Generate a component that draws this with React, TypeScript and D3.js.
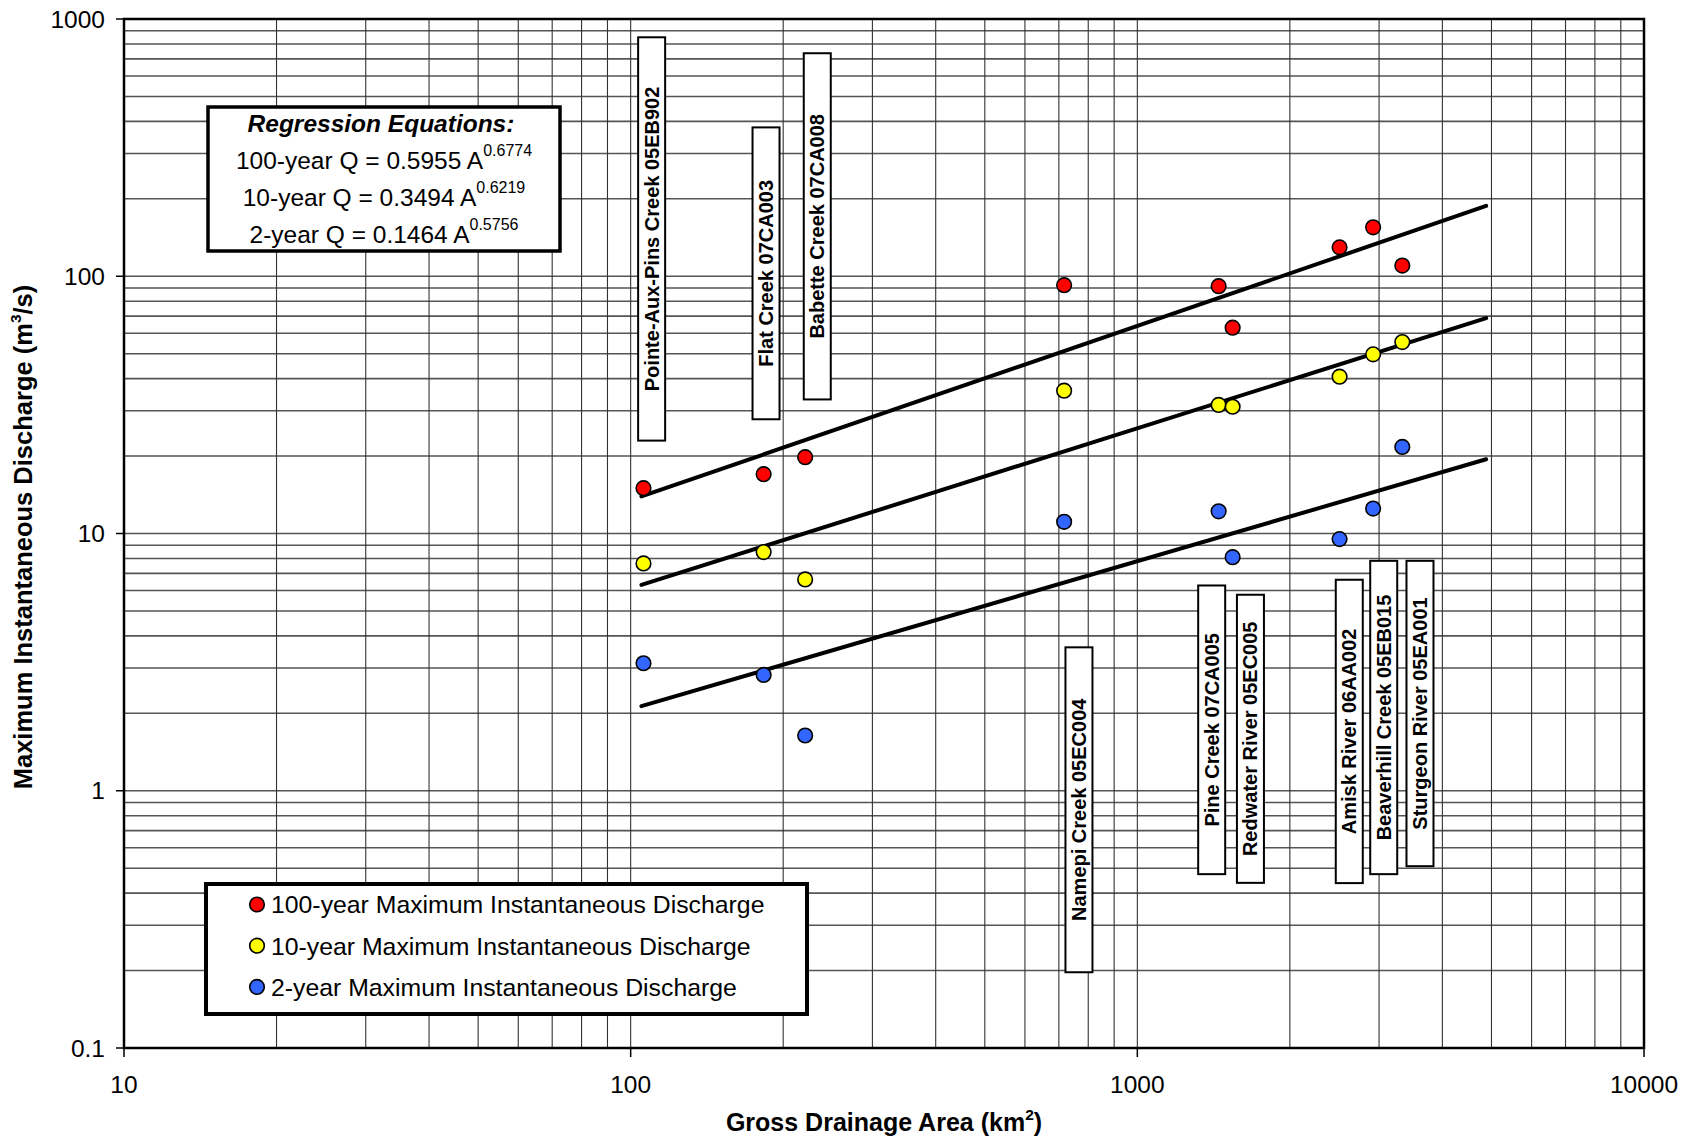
import React from "react";
import * as d3 from "d3";

// ---- Data ----
const AREA = [106, 183, 221, 717, 1447, 1542, 2507, 2920, 3334];
const Q100 = [15.0, 17.0, 19.8, 92.3, 91.5, 63.1, 129.5, 155, 110];
const Q10 = [7.65, 8.47, 6.63, 35.9, 31.6, 31.1, 40.7, 49.7, 55.5];
const Q2 = [3.13, 2.82, 1.64, 11.1, 12.2, 8.09, 9.51, 12.5, 21.7];

const STATION_LABELS = [
  "Pointe-Aux-Pins Creek 05EB902",
  "Flat Creek 07CA003",
  "Babette Creek 07CA008",
  "Namepi Creek 05EC004",
  "Pine Creek 07CA005",
  "Redwater River 05EC005",
  "Amisk River 06AA002",
  "Beaverhill Creek 05EB015",
  "Sturgeon River 05EA001",
];
const LABEL_AREA = [110, 185, 233.5, 767, 1402, 1672, 2620, 3064, 3613];
const LABEL_TOP = [849, 379, 736, 3.61, 6.28, 5.78, 6.61, 7.83, 7.83];
const LABEL_BOTTOM = [22.97, 27.8, 33.2, 0.197, 0.474, 0.4385, 0.4375, 0.474, 0.509];

const SERIES_NAMES = [
  "100-year Maximum Instantaneous Discharge",
  "10-year Maximum Instantaneous Discharge",
  "2-year Maximum Instantaneous Discharge",
];
const SERIES_VALUES = [Q100, Q10, Q2];
const SERIES_COLORS = ["#FF0000", "#FFFF00", "#3366FF"];

const EQ_LABELS = ["100-year Q = 0.5955 A", "10-year Q = 0.3494 A", "2-year Q = 0.1464 A"];
const EQ_COEF = [0.5955, 0.3494, 0.1464];
const EQ_EXP = [0.6774, 0.6219, 0.5756];
const FIT_RANGE = [105, 4880];

const X_TICKS = [10, 100, 1000, 10000];
const Y_TICKS = [0.1, 1, 10, 100, 1000];

const W = 1694;
const H = 1138;
const L = 124, R = 1644, T = 19, B = 1048;
const FONT = "'Liberation Sans', Arial, Helvetica, sans-serif";

export default function App() {
  const x = d3.scaleLog().domain([10, 10000]).range([L, R]);
  const y = d3.scaleLog().domain([0.1, 1000]).range([B, T]);

  const xMinor: number[] = [];
  for (let p = 10; p < 10000; p *= 10) for (let k = 1; k <= 9; k++) xMinor.push(p * k);
  const yMinor: number[] = [];
  for (let p = 0.1; p < 999; p *= 10) for (let k = 1; k <= 9; k++) yMinor.push(p * k);

  const fitPath = (i: number) => {
    const pts = FIT_RANGE.map((a) => [x(a), y(EQ_COEF[i] * Math.pow(a, EQ_EXP[i]))] as [number, number]);
    return d3.line()(pts) as string;
  };

  return (
    <svg
      width={W}
      height={H}
      style={{ position: "absolute", left: 0, top: 0, background: "#fff" }}
      fontFamily={FONT}
    >
      <rect x={0} y={0} width={W} height={H} fill="#fff" />
      {/* grid */}
      {yMinor.map((v, i) => (
        <line key={"h" + i} x1={L} x2={R} y1={y(v)} y2={y(v)} stroke="#555" strokeWidth={1.6} />
      ))}
      {xMinor.map((v, i) => (
        <line key={"v" + i} x1={x(v)} x2={x(v)} y1={T} y2={B} stroke="#333" strokeWidth={1.1} />
      ))}
      {/* frame */}
      <rect x={L} y={T} width={R - L} height={B - T} fill="none" stroke="#000" strokeWidth={2.5} />
      {/* ticks */}
      {Y_TICKS.map((v) => (
        <g key={"yt" + v}>
          <line x1={L - 8} x2={L} y1={y(v)} y2={y(v)} stroke="#000" strokeWidth={1.5} />
          <text x={105} y={y(v) + 8.7} fontSize={24.5} textAnchor="end">
            {String(v)}
          </text>
        </g>
      ))}
      {X_TICKS.map((v) => (
        <g key={"xt" + v}>
          <line x1={x(v)} x2={x(v)} y1={B} y2={B + 9} stroke="#000" strokeWidth={1.5} />
          <text x={x(v)} y={1093} fontSize={24.5} textAnchor="middle">
            {String(v)}
          </text>
        </g>
      ))}
      {/* axis titles */}
      <text x={884} y={1131} fontSize={25} fontWeight="bold" textAnchor="middle">
        Gross Drainage Area (km<tspan dy={-11} fontSize={15.5}>2</tspan>
        <tspan dy={11}>)</tspan>
      </text>
      <text
        transform={`translate(32,${537}) rotate(-90)`}
        fontSize={25.5}
        fontWeight="bold"
        textAnchor="middle"
      >
        Maximum Instantaneous Discharge (m<tspan dy={-11} fontSize={15.5}>3</tspan>
        <tspan dy={11}>/s)</tspan>
      </text>

      {/* station label boxes */}
      {STATION_LABELS.map((s, i) => {
        const cx = x(LABEL_AREA[i]);
        const top = y(LABEL_TOP[i]);
        const bot = y(LABEL_BOTTOM[i]);
        const cy = (top + bot) / 2;
        return (
          <g key={"st" + i}>
            <rect x={cx - 13.5} y={top} width={27} height={bot - top} fill="#fff" stroke="#000" strokeWidth={2} />
            <text
              transform={`translate(${cx + 7},${cy}) rotate(-90)`}
              fontSize={20}
              fontWeight="bold"
              textAnchor="middle"
            >
              {s}
            </text>
          </g>
        );
      })}

      {/* regression lines */}
      {EQ_COEF.map((_, i) => (
        <path key={"fit" + i} d={fitPath(i)} stroke="#000" strokeWidth={4} fill="none" strokeLinecap="round" />
      ))}

      {/* points */}
      {SERIES_VALUES.map((vals, si) =>
        vals.map((q, j) => (
          <circle
            key={`p${si}-${j}`}
            cx={x(AREA[j])}
            cy={y(q)}
            r={7.3}
            fill={SERIES_COLORS[si]}
            stroke="#000"
            strokeWidth={1.6}
          />
        ))
      )}

      {/* regression equations box */}
      <rect x={208} y={107} width={352} height={144} fill="#fff" stroke="#000" strokeWidth={3.5} />
      <text x={381} y={131.5} fontSize={24.5} fontWeight="bold" fontStyle="italic" textAnchor="middle">
        Regression Equations:
      </text>
      {EQ_LABELS.map((s, i) => (
        <text key={"eq" + i} x={384} y={169 + i * 37.2} fontSize={24.5} textAnchor="middle">
          {s}
          <tspan dy={-13} fontSize={16}>
            {EQ_EXP[i].toFixed(4)}
          </tspan>
        </text>
      ))}

      {/* legend */}
      <rect x={206} y={884} width={601} height={130} fill="#fff" stroke="#000" strokeWidth={4} />
      {SERIES_NAMES.map((s, i) => {
        const cy = 904.5 + i * 41.2;
        return (
          <g key={"lg" + i}>
            <circle cx={257} cy={cy} r={7.3} fill={SERIES_COLORS[i]} stroke="#000" strokeWidth={1.6} />
            <text x={271} y={cy + 8.8} fontSize={24.8}>
              {s}
            </text>
          </g>
        );
      })}
    </svg>
  );
}
